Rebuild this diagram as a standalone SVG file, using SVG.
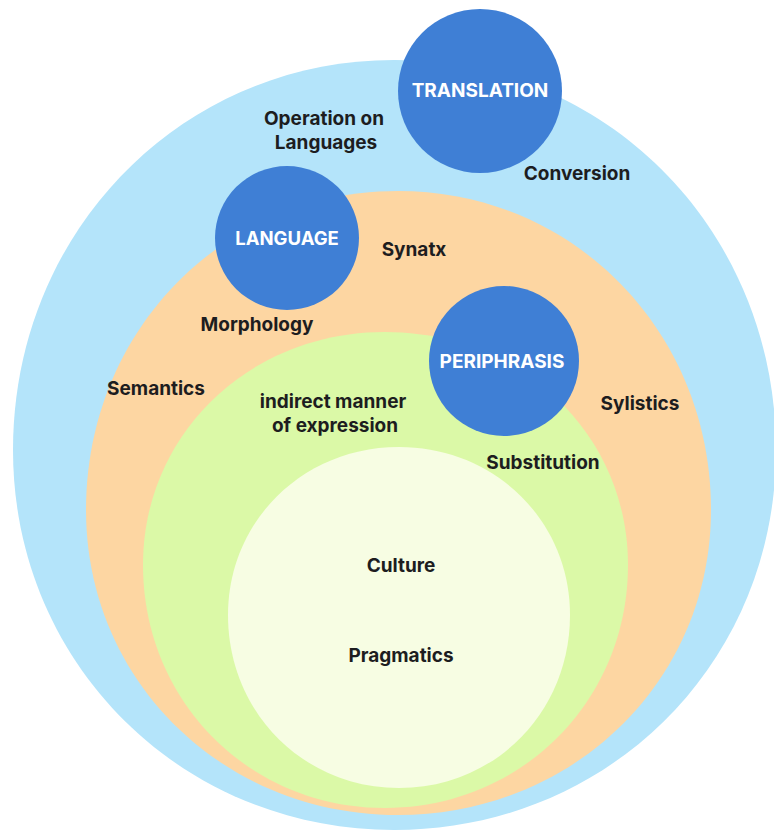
<svg xmlns="http://www.w3.org/2000/svg" width="774" height="832" viewBox="0 0 774 832">
  <style>
    .lbl { font-family: Inter, "Open Sans", "Liberation Sans", sans-serif; font-weight: 700; font-size: 19px; fill: #1d1d1f; text-anchor: middle; }
    .cap { font-family: Inter, "Open Sans", "Liberation Sans", sans-serif; font-weight: 700; font-size: 19px; fill: #ffffff; text-anchor: middle; }
    .hub { fill: #3f7fd5; }
  </style>
  <rect width="774" height="832" fill="#ffffff"/>

  <!-- nested fields, outermost first (near-circular ovals) -->
  <g id="field-translation">
    <path fill="#b4e4fa" d="M13,450 C13,232 181,60 394,60 C608,60 776,232 776,450 C776,663 608,830 394,830 C181,830 13,663 13,450 Z"/>
  </g>
  <g id="field-language">
    <path fill="#fdd6a2" d="M86,510 C86,331 223,191 398,191 C573,191 711,331 711,510 C711,681 573,815 398,815 C223,815 86,681 86,510 Z"/>
  </g>
  <g id="field-periphrasis">
    <path fill="#dbf9a7" d="M143,565 C143,434 249,332 385,332 C521,332 628,434 628,565 C628,701 521,808 385,808 C249,808 143,701 143,565 Z"/>
  </g>
  <g id="field-core">
    <path fill="#f7fde3" d="M228,615 C228,521 303,447 399,447 C495,447 570,521 570,615 C570,712 495,788 399,788 C303,788 228,712 228,615 Z"/>
  </g>

  <!-- hub circles -->
  <g id="node-translation">
    <circle class="hub" cx="480" cy="91" r="82"/>
    <text class="cap" x="480" y="97">TRANSLATION</text>
  </g>
  <g id="node-language">
    <circle class="hub" cx="287" cy="238" r="72"/>
    <text class="cap" x="287" y="245" style="font-size:18.5px">LANGUAGE</text>
  </g>
  <g id="node-periphrasis">
    <circle class="hub" cx="504" cy="361" r="75"/>
    <text class="cap" x="502" y="368">PERIPHRASIS</text>
  </g>

  <!-- field labels -->
  <g id="label-operation">
    <text class="lbl" x="324" y="125">Operation on</text>
    <text class="lbl" x="326" y="149">Languages</text>
  </g>
  <g id="label-conversion"><text class="lbl" x="577" y="180">Conversion</text></g>
  <g id="label-syntax"><text class="lbl" x="414" y="256">Synatx</text></g>
  <g id="label-morphology"><text class="lbl" x="257" y="331">Morphology</text></g>
  <g id="label-semantics"><text class="lbl" x="156" y="395">Semantics</text></g>
  <g id="label-indirect">
    <text class="lbl" x="333" y="408">indirect manner</text>
    <text class="lbl" x="335" y="432">of expression</text>
  </g>
  <g id="label-stylistics"><text class="lbl" x="640" y="410">Sylistics</text></g>
  <g id="label-substitution"><text class="lbl" x="543" y="469">Substitution</text></g>
  <g id="label-culture"><text class="lbl" x="401" y="572">Culture</text></g>
  <g id="label-pragmatics"><text class="lbl" x="401" y="662">Pragmatics</text></g>
</svg>
